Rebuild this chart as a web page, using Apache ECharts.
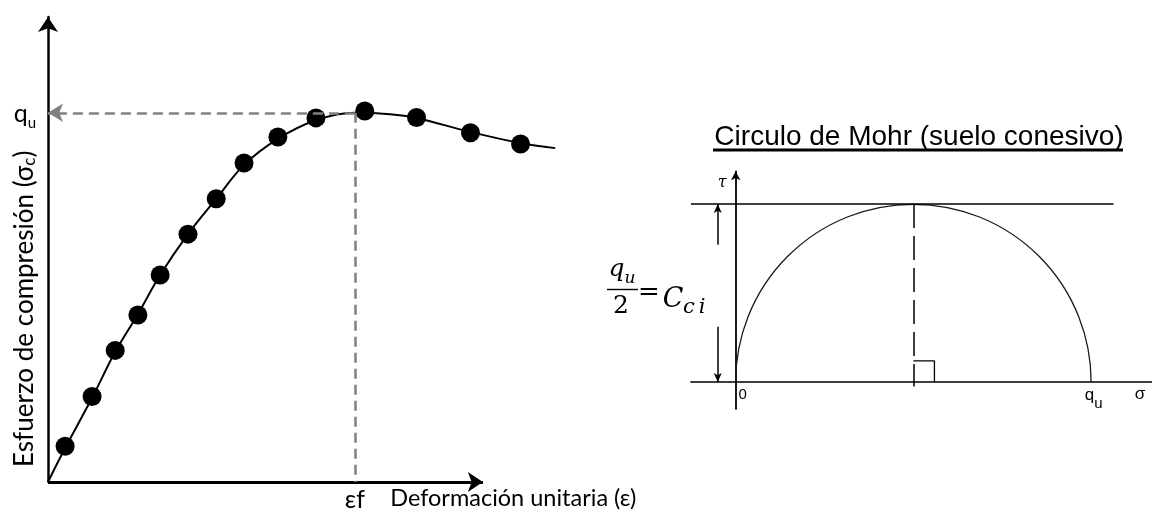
<!DOCTYPE html>
<html>
<head>
<meta charset="utf-8">
<script src="https://cdn.jsdelivr.net/npm/echarts@6/dist/echarts.min.js"></script>
<style>
  html, body { margin: 0; padding: 0; background: #fff; }
  #chart { width: 1152px; height: 514px; }
</style>
</head>
<body>
<div id="chart"></div>
<script>
// Unconfined compression test: measured points (strain, stress)
const strain = [4.0, 10.3, 15.7, 21.0, 26.2, 32.7, 39.3, 45.8, 53.7, 62.6, 74.0, 86.1, 98.7, 110.4];
const stress = [7.7, 18.4, 28.3, 35.9, 44.5, 53.3, 60.9, 68.6, 74.2, 78.3, 79.8, 78.4, 75.1, 72.7];

// Fitted stress–strain curve
const curveStrain = [0, 4.0, 10.3, 15.7, 21.0, 26.2, 32.7, 39.3, 45.8, 53.7, 62.6, 71.7, 79.9, 86.0, 98.6, 110.3, 118.5];
const curveStress = [0, 7.3, 18.1, 28.0, 36.1, 44.5, 53.3, 60.9, 68.2, 73.8, 77.8, 79.4, 79.1, 78.3, 75.3, 72.9, 71.8];

const qu = 79.4;        // unconfined compressive strength (peak)
const epsF = 71.7;      // strain at failure
const strainAxisEnd = 101.6;  // the strain axis arrow stops short of the curve's end

// Mohr circle for a cohesive soil: centre and radius both qu/2
const cci = qu / 2;
const envelopeEnd = 84.4;   // where the horizontal tau = c line stops
const dimAt = -4;           // sigma position of the qu/2 dimension arrows
const dimGapTop = 30.6;     // dimension arrow segments leave room for the formula
const dimGapBottom = 12.3;
const rightAngle = 4.7;     // size of the right-angle marker

const sansLeft = 'Lato, "Open Sans", sans-serif';
const sansRight = '"Liberation Sans", Arial, sans-serif';
const serif = '"DejaVu Serif", "Liberation Serif", serif';

const chart = echarts.init(document.getElementById('chart'), null, { renderer: 'canvas' });

chart.setOption({
  animation: false,
  backgroundColor: '#fff',
  grid: [
    { left: 48, top: 17, width: 522.2, height: 465 },
    { left: 690.9, top: 171.3, width: 461.8, height: 237.6 }
  ],
  xAxis: [
    {
      gridIndex: 0, type: 'value', min: 0, max: 122,
      axisLine: { show: false },
      axisTick: { show: false },
      splitLine: { show: false },
      axisLabel: {
        customValues: [epsF], margin: 5, formatter: () => 'εf',
        fontFamily: sansLeft, fontSize: 25, color: '#000'
      },
      name: 'Deformación unitaria (ε)',
      nameLocation: 'end', nameGap: -180,
      nameTextStyle: { align: 'left', verticalAlign: 'top', padding: [4, 0, 0, 0],
        fontFamily: sansLeft, fontSize: 23.5, color: '#000' }
    },
    {
      gridIndex: 1, type: 'value', min: -10, max: 93,
      axisLine: { show: true, lineStyle: { color: '#000', width: 1.5 } },
      axisTick: { show: false },
      splitLine: { show: false },
      axisLabel: {
        customValues: [0, qu], margin: -22,
        formatter: v => (v === 0 ? '{z|0}' : '{q|q}{u|u}'),
        rich: {
          z: { fontFamily: sansRight, fontSize: 15, color: '#000', padding: [0, 0, 0, 14] },
          q: { fontFamily: sansRight, fontSize: 17, lineHeight: 18, verticalAlign: 'top', color: '#000', padding: [0, 0, 0, 5] },
          u: { fontFamily: sansRight, fontSize: 15, lineHeight: 24, verticalAlign: 'bottom', color: '#000' }
        }
      },
      name: 'σ', nameLocation: 'end', nameGap: -12,
      nameTextStyle: { align: 'center', verticalAlign: 'top', padding: [4, 0, 0, 0],
        fontFamily: sansRight, fontSize: 17, color: '#000' }
    }
  ],
  yAxis: [
    {
      gridIndex: 0, type: 'value', min: 0, max: 100,
      axisLine: { show: true, onZero: false, symbol: ['none', 'arrow'], symbolSize: [15, 15],
        lineStyle: { color: '#000', width: 2.5 } },
      axisTick: { show: false },
      splitLine: { show: false },
      axisLabel: {
        customValues: [qu], margin: 12, padding: [6, 0, 0, 0],
        formatter: () => '{a|q}{s|u}',
        rich: {
          a: { fontSize: 25, lineHeight: 25, verticalAlign: 'top', fontFamily: sansLeft, color: '#000' },
          s: { fontSize: 15, lineHeight: 29, verticalAlign: 'bottom', fontFamily: sansLeft, color: '#000' }
        }
      },
      name: 'Esfuerzo de compresión (σ{s|c})',
      nameLocation: 'start', nameGap: -15, nameRotate: 90,
      nameTextStyle: { align: 'left', verticalAlign: 'bottom', padding: [0, 0, 10, 0],
        fontFamily: sansLeft, fontSize: 26, color: '#000',
        rich: { s: { fontSize: 17, fontFamily: sansLeft, color: '#000', padding: [10, 0, 0, 0] } } }
    },
    {
      gridIndex: 1, type: 'value', min: -6, max: 47,
      axisLine: { show: true, symbol: ['none', 'arrow'], symbolSize: [7, 9],
        lineStyle: { color: '#000', width: 1.8 } },
      axisTick: { show: false },
      splitLine: { show: false },
      axisLabel: { show: false },
      name: 'τ', nameLocation: 'end', nameGap: -12,
      nameTextStyle: { align: 'right', verticalAlign: 'middle', padding: [0, 9, 0, 0],
        fontFamily: serif, fontStyle: 'italic', fontSize: 16, color: '#000' }
    }
  ],
  series: [
    {
      name: 'curva',
      type: 'line', xAxisIndex: 0, yAxisIndex: 0,
      data: curveStrain.map((x, i) => [x, curveStress[i]]),
      smooth: 0.35, showSymbol: false, clip: false, z: 2,
      lineStyle: { color: '#000', width: 2 },
      markLine: {
        silent: true, animation: false,
        symbol: ['none', 'none'],
        label: { show: false },
        lineStyle: { color: '#808080', width: 2.5, type: [10, 6] },
        data: [
          // strain axis
          [ { coord: [0, 0], symbol: 'none', lineStyle: { color: '#000', width: 3, type: 'solid' } },
            { coord: [strainAxisEnd, 0], symbol: 'arrow', symbolSize: [15, 15] } ],
          // qu read-off and failure strain
          [ { coord: [epsF, qu], symbol: 'none' },
            { coord: [0, qu], symbol: 'arrow', symbolSize: [14, 15] } ],
          [ { coord: [epsF, qu] }, { coord: [epsF, 0] } ]
        ]
      }
    },
    {
      name: 'ensayo',
      type: 'scatter', xAxisIndex: 0, yAxisIndex: 0,
      data: strain.map((x, i) => [x, stress[i]]),
      symbolSize: 19, clip: false, z: 3,
      itemStyle: { color: '#000', opacity: 1 }
    },
    {
      name: 'círculo',
      type: 'custom', xAxisIndex: 1, yAxisIndex: 1,
      data: [[cci, cci]],
      renderItem: (params, api) => {
        const c = api.coord([api.value(0), 0]);
        const e = api.coord([api.value(0) + api.value(1), 0]);
        return {
          type: 'arc',
          shape: { cx: c[0], cy: c[1], r: e[0] - c[0], startAngle: Math.PI, endAngle: 2 * Math.PI, clockwise: true },
          style: { stroke: '#1a1a1a', fill: 'none', lineWidth: 1.3 }
        };
      }
    },
    {
      name: 'ángulo',
      type: 'line', xAxisIndex: 1, yAxisIndex: 1,
      data: [[cci, rightAngle], [cci + rightAngle, rightAngle], [cci + rightAngle, 0]],
      showSymbol: false, symbol: 'none',
      lineStyle: { color: '#000', width: 1.3 },
      markLine: {
        silent: true, animation: false,
        symbol: ['none', 'none'],
        label: { show: false },
        lineStyle: { color: '#000', width: 1.5, type: 'solid' },
        data: [
          [ { coord: [-10, cci] }, { coord: [envelopeEnd, cci] } ],
          [ { coord: [cci, cci], lineStyle: { type: [24, 8], width: 1.5, color: '#000' } }, { coord: [cci, -1] } ],
          [ { coord: [dimAt, dimGapTop], symbol: 'none' },
            { coord: [dimAt, cci], symbol: 'arrow', symbolSize: [6, 9] } ],
          [ { coord: [dimAt, dimGapBottom], symbol: 'none' },
            { coord: [dimAt, 0], symbol: 'arrow', symbolSize: [6, 9] } ]
        ]
      }
    }
  ],
  graphic: [
    {
      type: 'text', x: 919, y: 137,
      style: { text: 'Circulo de Mohr (suelo conesivo)', align: 'center', verticalAlign: 'middle',
        fontFamily: sansRight, fontSize: 28, fill: '#000' }
    },
    { type: 'line', shape: { x1: 713, y1: 150, x2: 1123, y2: 150 }, style: { stroke: '#000', lineWidth: 3 } },
    // qu / 2 = Cci
    {
      type: 'text', x: 622, y: 272,
      style: { text: '{q|q}{u|u}', align: 'center', verticalAlign: 'middle',
        rich: {
          q: { fontFamily: serif, fontStyle: 'italic', fontSize: 25, lineHeight: 26, verticalAlign: 'top', fill: '#000' },
          u: { fontFamily: serif, fontStyle: 'italic', fontSize: 17, lineHeight: 30, verticalAlign: 'bottom', fill: '#000' }
        } }
    },
    { type: 'line', shape: { x1: 607, y1: 289.5, x2: 638, y2: 289.5 }, style: { stroke: '#000', lineWidth: 1.4 } },
    {
      type: 'text', x: 621, y: 306,
      style: { text: '2', align: 'center', verticalAlign: 'middle', fontFamily: serif, fontSize: 25, fill: '#000' }
    },
    {
      type: 'text', x: 649, y: 293,
      style: { text: '=', align: 'center', verticalAlign: 'middle', fontFamily: serif, fontSize: 26, fill: '#000' }
    },
    {
      type: 'text', x: 673, y: 300,
      style: { text: 'C', align: 'center', verticalAlign: 'middle', fontFamily: serif, fontStyle: 'italic', fontSize: 27, fill: '#000' }
    },
    {
      type: 'text', x: 683, y: 308,
      style: { text: '{c|c}{i|i}', align: 'left', verticalAlign: 'middle',
        rich: {
          c: { fontFamily: serif, fontStyle: 'italic', fontSize: 21, fill: '#000' },
          i: { fontFamily: serif, fontStyle: 'italic', fontSize: 21, fill: '#000', padding: [0, 0, 0, 4] }
        } }
    }
  ]
});
</script>
</body>
</html>
